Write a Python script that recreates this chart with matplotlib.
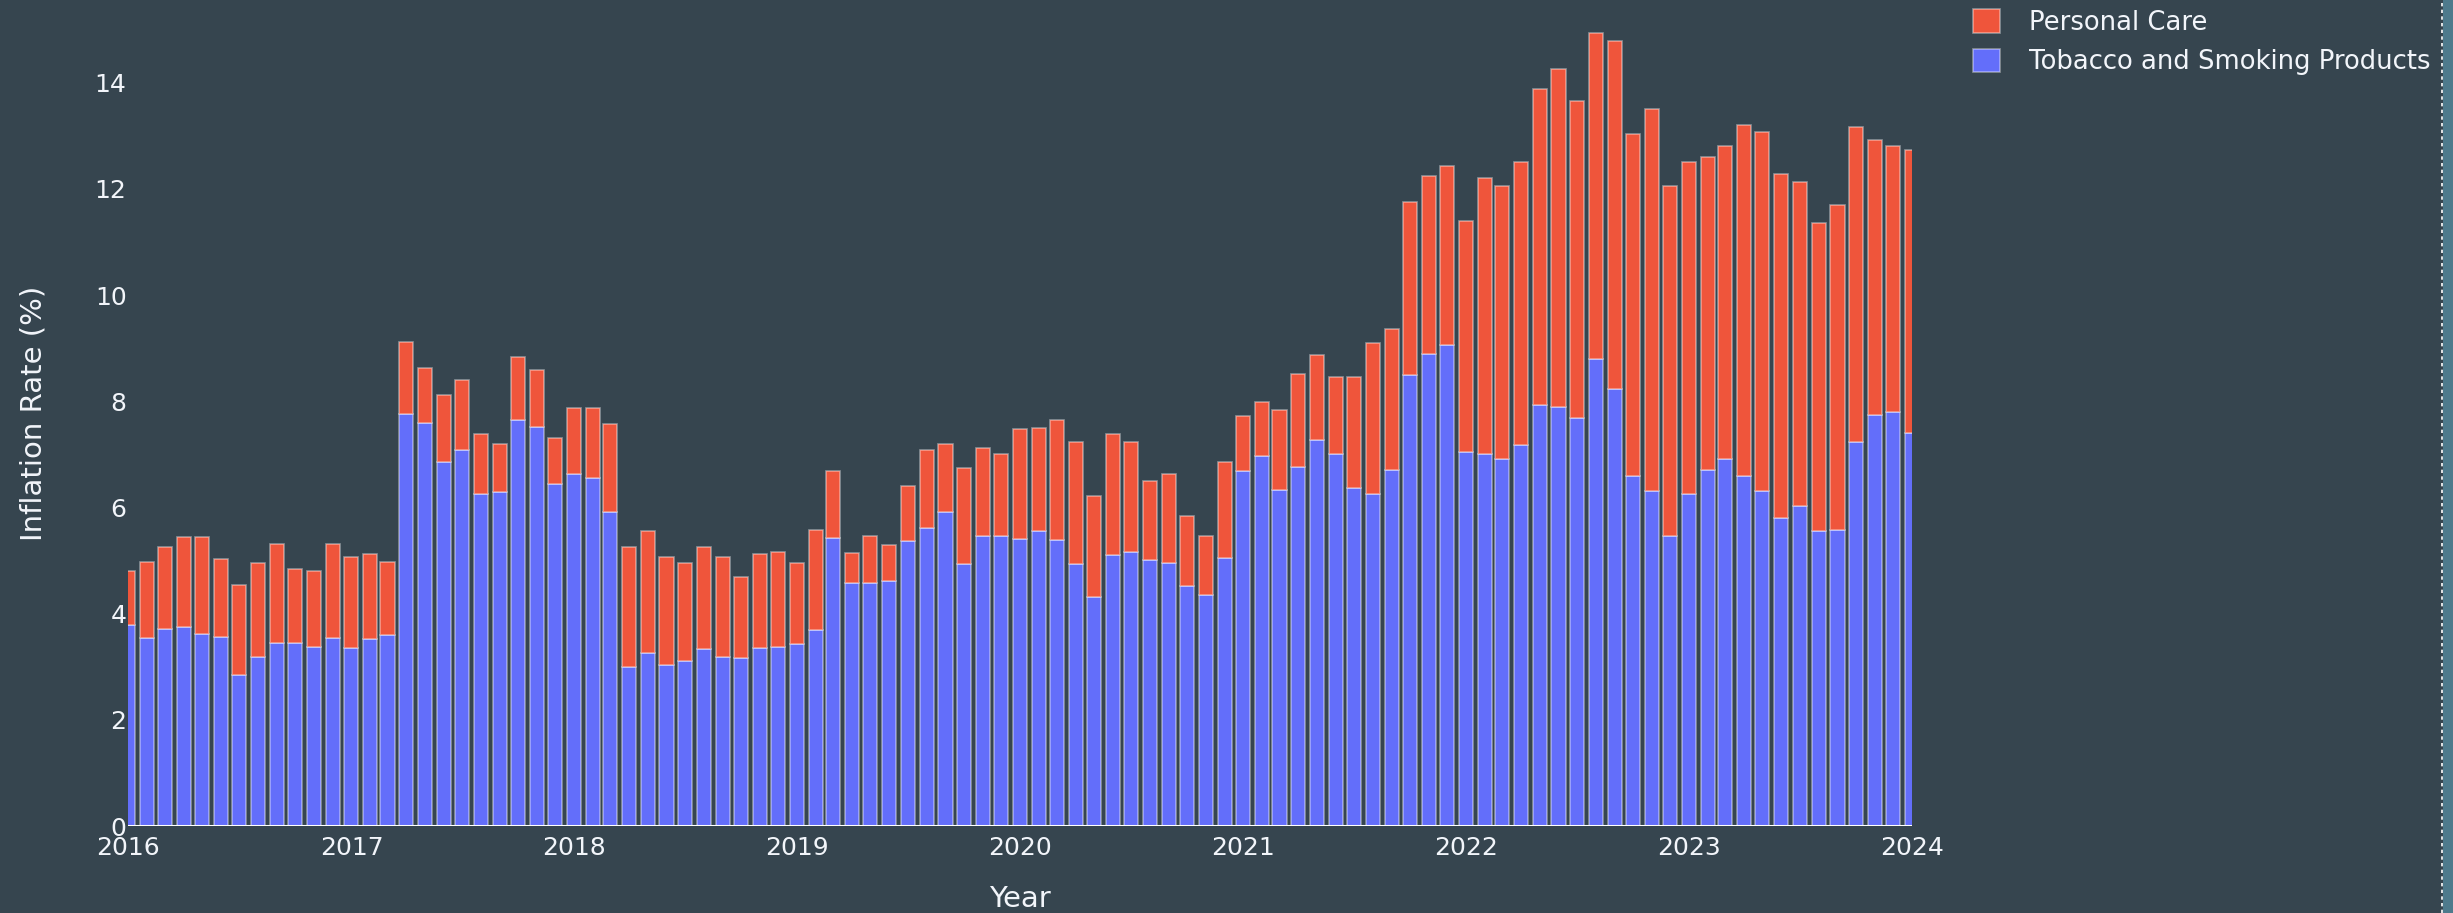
import matplotlib
matplotlib.use('Agg')
import matplotlib.pyplot as plt
import matplotlib.dates as mdates
from matplotlib.patches import Patch, Rectangle
from matplotlib.lines import Line2D
import pandas as pd

# monthly observations, Jan 2016 .. Jan 2024
months = pd.date_range('2016-01-01', '2024-01-01', freq='MS')

tobacco = [
    3.79, 3.55, 3.71, 3.75, 3.62, 3.56, 2.84, 3.18, 3.45, 3.45, 3.38, 3.55,
    3.36, 3.52, 3.60, 7.76, 7.60, 6.85, 7.09, 6.26, 6.30, 7.65, 7.51, 6.45,
    6.63, 6.56, 5.92, 3.00, 3.25, 3.03, 3.10, 3.34, 3.19, 3.16, 3.36, 3.37,
    3.42, 3.70, 5.43, 4.57, 4.57, 4.61, 5.36, 5.62, 5.92, 4.94, 5.47, 5.47,
    5.40, 5.55, 5.39, 4.94, 4.31, 5.10, 5.17, 5.02, 4.95, 4.53, 4.35, 5.05,
    6.68, 6.97, 6.33, 6.77, 7.27, 7.00, 6.37, 6.26, 6.71, 8.50, 8.90, 9.06,
    7.04, 7.00, 6.91, 7.18, 7.94, 7.90, 7.69, 8.80, 8.24, 6.60, 6.32, 5.46,
    6.26, 6.70, 6.92, 6.60, 6.32, 5.81, 6.03, 5.55, 5.58, 7.23, 7.75, 7.79,
    7.41,
]
personal_care = [
    1.01, 1.43, 1.55, 1.69, 1.82, 1.47, 1.70, 1.77, 1.87, 1.39, 1.42, 1.77,
    1.71, 1.61, 1.38, 1.36, 1.03, 1.26, 1.31, 1.13, 0.90, 1.19, 1.08, 0.86,
    1.25, 1.32, 1.65, 2.25, 2.30, 2.04, 1.85, 1.91, 1.88, 1.53, 1.77, 1.79,
    1.53, 1.88, 1.25, 0.57, 0.90, 0.68, 1.05, 1.47, 1.28, 1.81, 1.66, 1.53,
    2.07, 1.95, 2.26, 2.29, 1.91, 2.29, 2.06, 1.47, 1.68, 1.31, 1.12, 1.81,
    1.05, 1.02, 1.50, 1.74, 1.61, 1.46, 2.09, 2.84, 2.65, 3.25, 3.34, 3.38,
    4.35, 5.20, 5.14, 5.33, 5.95, 6.36, 5.97, 6.13, 6.55, 6.43, 7.19, 6.59,
    6.24, 5.91, 5.89, 6.60, 6.75, 6.47, 6.10, 5.80, 6.11, 5.94, 5.17, 5.02,
    5.32,
]
year_ticks = pd.date_range('2016-01-01', '2024-01-01', freq='YS')

BG = '#36454f'
FG = '#f2f5fa'
RED = '#EF553B'
BLUE = '#636EFA'
EDGE = (1, 1, 1, 0.42)

plt.rcParams['font.family'] = ['DejaVu Sans']

fig = plt.figure(figsize=(24.53, 9.13), dpi=100, facecolor=BG)
W, H = 2453, 913
ax = fig.add_axes([128 / W, (H - 826) / H, (1912 - 128) / W, 826 / H])
ax.set_facecolor(BG)

x = mdates.date2num(months)
ax.bar(x, tobacco, width=23, color=BLUE, edgecolor=EDGE, linewidth=1.2,
       label='Tobacco and Smoking Products')
ax.bar(x, personal_care, width=23, bottom=tobacco, color=RED, edgecolor=EDGE,
       linewidth=1.2, label='Personal Care')
ax.axhline(0, color='white', lw=2.2, zorder=5)

ax.set_xlim(mdates.date2num(months[0]), mdates.date2num(months[-1]))
ax.set_ylim(0, 15.56)
ax.set_xticks(mdates.date2num(year_ticks))
ax.xaxis.set_major_formatter(mdates.DateFormatter('%Y'))
ax.set_yticks(range(0, 15, 2))
ax.tick_params(colors=FG, labelsize=18, length=0)
ax.tick_params(axis='x', pad=7)
ax.tick_params(axis='y', pad=1)
for s in ax.spines.values():
    s.set_visible(False)

ax.set_xlabel('Year', color=FG, fontsize=21)
ax.set_ylabel('Inflation Rate (%)', color=FG, fontsize=21)
ax.xaxis.set_label_coords(0.5, -0.072)
ax.yaxis.set_label_coords(-(128 - 48) / 1784, 0.5)

handles = [Patch(facecolor=RED, edgecolor=EDGE, linewidth=1.2),
           Patch(facecolor=BLUE, edgecolor=EDGE, linewidth=1.2)]
fig.legend(handles, ['Personal Care', 'Tobacco and Smoking Products'],
           loc='upper left', bbox_to_anchor=(1973 / W, 1 - 9 / H),
           frameon=False, fontsize=18.6, labelcolor=FG,
           handlelength=1.03, handleheight=1.03, handletextpad=1.15,
           labelspacing=0.5, borderpad=0, borderaxespad=0)

# screenshot edge on the right
fig.add_artist(Rectangle((2443 / W, 0), 10 / W, 1, transform=fig.transFigure,
                         color='#4e7a8c', lw=0))
fig.add_artist(Line2D([2442 / W] * 2, [0, 1], transform=fig.transFigure,
                      color='white', lw=1.2, ls=(0, (2, 2))))

fig.savefig('out.png', dpi=100, facecolor=BG)
